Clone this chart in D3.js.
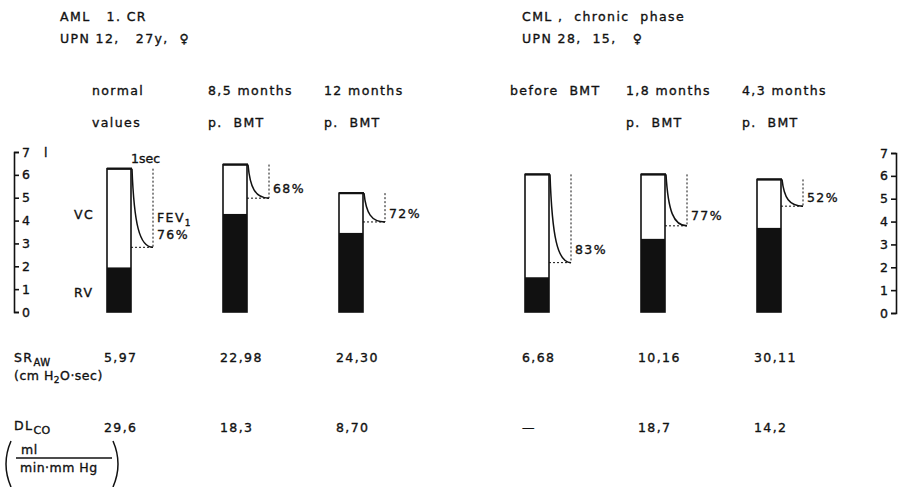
<!DOCTYPE html>
<html>
<head>
<meta charset="utf-8">
<script src="https://cdn.jsdelivr.net/npm/d3@7"></script>
<style>
  body { margin: 0; background: #fff; }
  svg text { font-family: 'DejaVu Sans', sans-serif; font-size: 12.5px; letter-spacing: 1.4px; fill: #111; stroke: #111; stroke-width: 0.35px; white-space: pre; }
</style>
</head>
<body>
<svg id="chart" width="908" height="487"></svg>
<script>
// two patients, three spirograms each
const panelTitles = ['AML   1. CR', 'CML ,  chronic  phase']
const panelSubtitles = ['UPN 12,   27y,  \u2640', 'UPN 28,  15,   \u2640']

const stageLine1 = ['normal', '8,5 months', '12 months', 'before  BMT', '1,8 months', '4,3 months']
const stageLine2 = ['values', 'p.  BMT', 'p.  BMT', '', 'p.  BMT', 'p.  BMT']
const stagePanel = [0, 0, 0, 1, 1, 1]

// litres
const totalCapacity = [6.27, 6.45, 5.2, 6.02, 6.02, 5.8]
const residualVolume = [1.95, 4.29, 3.46, 1.52, 3.2, 3.68]
const fev1Level = [2.83, 4.98, 3.94, 2.16, 3.77, 4.63]
const fev1Pct = ['76%', '68%', '72%', '83%', '77%', '52%']

const srawValues = ['5,97', '22,98', '24,30', '6,68', '10,16', '30,11']
const dlcoValues = ['29,6', '18,3', '8,70', '\u2014', '18,7', '14,2']

const yTicks = [0, 1, 2, 3, 4, 5, 6, 7]

const svg = d3.select('#chart')

const y = d3.scaleLinear().domain([0, 7]).range([312, 152])
const xPanels = [
  d3.scalePoint().domain([0, 1, 2]).range([119, 351]),
  d3.scalePoint().domain([3, 4, 5]).range([537, 769])
]
const cx = i => xPanels[stagePanel[i]](i)

const barW = 24
const secW = 22

// axes
const axL = svg.append('g')
  .attr('transform', 'translate(14,0)')
  .call(d3.axisRight(y).tickValues(yTicks).tickSize(5).tickSizeOuter(5).tickPadding(3).tickFormat(d3.format('d')))
const axR = svg.append('g')
  .attr('transform', 'translate(896,1)')
  .call(d3.axisLeft(y).tickValues(yTicks).tickSize(5).tickSizeOuter(5).tickPadding(3).tickFormat(d3.format('d')))
;[axL, axR].forEach(ax => {
  ax.selectAll('path, line').attr('stroke', '#111').attr('stroke-width', 1.6)
  ax.selectAll('text').attr('font-size', null).attr('font-family', null).style('font-size', '12.5px').style('letter-spacing', '0px')
})
svg.append('text').attr('x', 44).attr('y', 157).text('l')

// panel headers
panelTitles.forEach((t, p) => {
  const hx = p === 0 ? 60 : 522
  svg.append('text').attr('x', hx).attr('y', 21).text(t)
  svg.append('text').attr('x', hx).attr('y', 43).text(panelSubtitles[p])
})

// stage labels
stageLine1.forEach((t, i) => {
  svg.append('text').attr('x', cx(i) - 27).attr('y', 95).text(t)
  svg.append('text').attr('x', cx(i) - 27).attr('y', 127).text(stageLine2[i])
})

// bars
const bars = svg.append('g').selectAll('g')
  .data(d3.range(totalCapacity.length))
  .join('g')

bars.append('rect')
  .attr('x', i => cx(i) - barW / 2)
  .attr('y', i => y(residualVolume[i]))
  .attr('width', barW)
  .attr('height', i => y(0) - y(residualVolume[i]))
  .attr('fill', '#111')

bars.append('rect')
  .attr('x', i => cx(i) - barW / 2)
  .attr('y', i => y(totalCapacity[i]))
  .attr('width', barW)
  .attr('height', i => y(0) - y(totalCapacity[i]))
  .attr('fill', 'none')
  .attr('stroke', '#111')
  .attr('stroke-width', 1.6)

// thicker top edge running into the curve
bars.append('line')
  .attr('x1', i => cx(i) - barW / 2)
  .attr('x2', i => cx(i) + barW / 2 + 1)
  .attr('y1', i => y(totalCapacity[i]))
  .attr('y2', i => y(totalCapacity[i]))
  .attr('stroke', '#111')
  .attr('stroke-width', 2.2)

// forced expiration curve over 1 sec
bars.append('path')
  .attr('fill', 'none')
  .attr('stroke', '#111')
  .attr('stroke-width', 1.5)
  .attr('d', i => {
    const x0 = cx(i) + barW / 2 + 1
    const w = secW - 1
    const yT = y(totalCapacity[i])
    const yE = y(fev1Level[i])
    const p = d3.path()
    p.moveTo(x0, yT)
    p.bezierCurveTo(x0 + 0.1 * w, yT + 0.7 * (yE - yT), x0 + 0.35 * w, yE, x0 + w, yE)
    return p.toString()
  })

bars.append('path')
  .attr('fill', 'none')
  .attr('stroke', '#111')
  .attr('stroke-width', 1)
  .attr('stroke-dasharray', '2,2')
  .attr('d', i => {
    const x0 = cx(i) + barW / 2
    const x1 = x0 + secW
    return `M${x0},${y(fev1Level[i])}H${x1}M${x1},${y(totalCapacity[i])}V${y(fev1Level[i])}`
  })

const pctY = i => {
  const drop = y(fev1Level[i]) - y(totalCapacity[i])
  return y(fev1Level[i]) - 2 - 0.08 * drop
}

bars.append('text')
  .attr('x', i => cx(i) + barW / 2 + secW + 4)
  .attr('y', pctY)
  .text(i => fev1Pct[i])

// annotations on the first spirogram
{
  const x0 = cx(0) + barW / 2
  svg.append('text').attr('x', x0).attr('y', y(totalCapacity[0]) - 6).style('letter-spacing', '0px').text('1sec')
  const fev = svg.append('text')
    .attr('x', x0 + secW + 4)
    .attr('y', pctY(0) - 17)
  fev.append('tspan').text('FEV')
  fev.append('tspan').attr('dy', 4).style('font-size', '9px').text('1')
  svg.append('text').attr('x', 74).attr('y', (y(totalCapacity[0]) + y(residualVolume[0])) / 2 + 1).text('VC')
  svg.append('text').attr('x', 74).attr('y', (y(residualVolume[0]) + y(0)) / 2 + 7).text('RV')
}

// lung function rows
const sr = svg.append('text').attr('x', 14).attr('y', 362)
sr.append('tspan').text('SR')
sr.append('tspan').attr('dy', 4).style('font-size', '10px').style('letter-spacing', '0.5px').text('AW')
const srUnit = svg.append('text').attr('x', 14).attr('y', 380).style('letter-spacing', '0.5px')
srUnit.append('tspan').text('(cm H')
srUnit.append('tspan').attr('dy', 3).style('font-size', '9px').text('2')
srUnit.append('tspan').attr('dy', -3).text('O\u00b7sec)')

const dl = svg.append('text').attr('x', 14).attr('y', 430)
dl.append('tspan').text('DL')
dl.append('tspan').attr('dy', 4).style('font-size', '11px').style('letter-spacing', '0.5px').text('CO')

svg.append('text').attr('x', 21).attr('y', 454).style('letter-spacing', '0.5px').text('ml')
svg.append('line').attr('x1', 16).attr('x2', 112).attr('y1', 458).attr('y2', 458).attr('stroke', '#111').attr('stroke-width', 1.3)
svg.append('text').attr('x', 20).attr('y', 472).style('letter-spacing', '0.5px').text('min\u00b7mm Hg')
svg.append('path').attr('fill', 'none').attr('stroke', '#111').attr('stroke-width', 1.5)
  .attr('d', 'M11,441Q1,464 11,487M113,441Q123,464 113,487')

srawValues.forEach((v, i) => {
  svg.append('text').attr('x', cx(i) - 15).attr('y', 362).text(v)
})
dlcoValues.forEach((v, i) => {
  svg.append('text').attr('x', cx(i) - 15).attr('y', 432).text(v)
})
</script>
</body>
</html>
